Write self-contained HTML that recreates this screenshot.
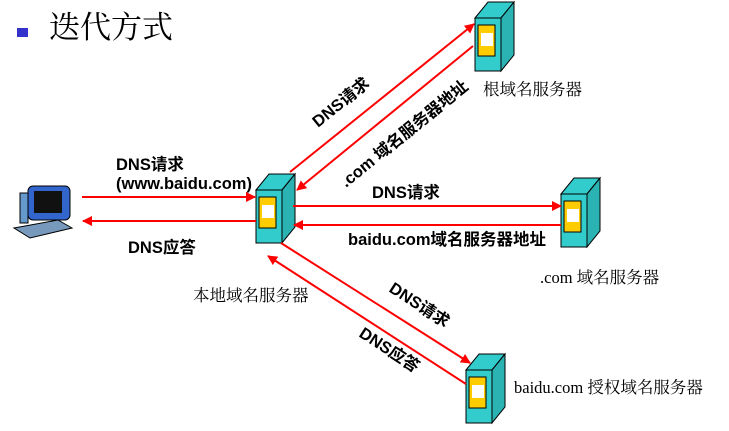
<!DOCTYPE html>
<html><head><meta charset="utf-8"><style>
html,body{margin:0;padding:0;background:#fff;width:729px;height:431px;overflow:hidden}
svg text{font-family:"Liberation Sans","Noto Sans CJK SC",sans-serif}
.b{font-weight:bold;font-size:16.5px;fill:#000}
.n{font-size:16.5px;fill:#000;font-family:"Liberation Serif","Noto Serif CJK SC",serif}
</style></head><body>
<svg width="729" height="431" viewBox="0 0 729 431" xmlns="http://www.w3.org/2000/svg">
<defs>
<marker id="a" markerWidth="10" markerHeight="10" refX="9" refY="5" orient="auto" markerUnits="userSpaceOnUse">
<path d="M0,0 L10,5 L0,10 z" fill="#ff0000"/></marker>
<g id="srv">
<polygon points="0,16 13,0 39,0 26,16" fill="#33cccc" stroke="#000" stroke-width="1"/>
<polygon points="26,16 39,0 39,53 26,69" fill="#2bb3b3" stroke="#000" stroke-width="1"/>
<rect x="0" y="16" width="26" height="53" fill="#33cccc" stroke="#000" stroke-width="1"/>
<rect x="3" y="23" width="17" height="31" fill="#ffcc00" stroke="#000" stroke-width="1"/>
<rect x="6" y="31" width="12" height="13" fill="#fff"/>
</g>
</defs>
<rect x="17" y="28" width="11" height="9" fill="#3333cc"/>
<text x="49" y="38" font-size="31" style="font-family:'Noto Serif CJK SC','Liberation Serif',serif">迭代方式</text>

<!-- computer -->
<g>
<rect x="20" y="193" width="8" height="30" fill="#6699cc" stroke="#000"/>
<rect x="28" y="186" width="42" height="34" rx="5" fill="#3366cc" stroke="#000"/>
<rect x="34" y="191" width="28" height="22" fill="#111"/>
<polygon points="14,228 58,220 72,228 30,238" fill="#7799bb" stroke="#000"/>
</g>

<use href="#srv" x="256" y="174"/>
<use href="#srv" x="475" y="2"/>
<use href="#srv" x="561" y="178"/>
<use href="#srv" x="466" y="354"/>

<g stroke="#ff0000" stroke-width="2" fill="none">
<line x1="82" y1="197" x2="255" y2="197" marker-end="url(#a)"/>
<line x1="256" y1="221" x2="83" y2="221" marker-end="url(#a)"/>
<line x1="290" y1="172" x2="474" y2="24" marker-end="url(#a)"/>
<line x1="473" y1="46" x2="297" y2="190" marker-end="url(#a)"/>
<line x1="293" y1="206" x2="561" y2="206" marker-end="url(#a)"/>
<line x1="561" y1="225" x2="294" y2="225" marker-end="url(#a)"/>
<line x1="281" y1="243" x2="470" y2="363" marker-end="url(#a)"/>
<line x1="466" y1="384" x2="268" y2="256" marker-end="url(#a)"/>
</g>

<text class="b" x="116" y="170">DNS请求</text>
<text class="b" x="116" y="189">(www.baidu.com)</text>
<text class="b" x="128" y="253">DNS应答</text>
<text class="n" x="193" y="301">本地域名服务器</text>
<text class="n" x="483" y="95">根域名服务器</text>
<text class="n" x="540" y="283">.com 域名服务器</text>
<text class="n" x="514" y="393">baidu.com 授权域名服务器</text>
<text class="b" x="372" y="198">DNS请求</text>
<text class="b" x="348" y="245">baidu.com域名服务器地址</text>
<text class="b" transform="translate(318,128) rotate(-39)">DNS请求</text>
<text class="b" transform="translate(346,188) rotate(-39)">.com 域名服务器地址</text>
<text class="b" transform="translate(388,291) rotate(33)">DNS请求</text>
<text class="b" transform="translate(358,336) rotate(33)">DNS应答</text>
</svg>
</body></html>
